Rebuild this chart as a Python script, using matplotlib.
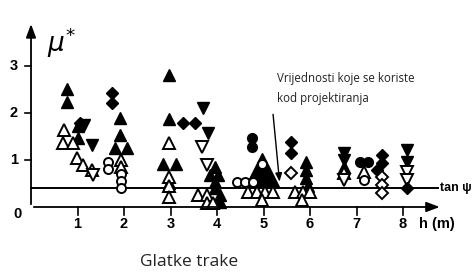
import matplotlib
matplotlib.use("Agg")
import matplotlib.pyplot as plt

# --- datos (h en m, mu*) ---
fill_up_h = [0.77, 0.77, 1.01, 1.0, 1.91, 1.91, 1.81, 2.06, 2.97, 2.97, 2.84, 3.12, 2.97,
             3.96, 3.85, 4.02, 3.96, 3.96, 4.06, 4.06, 5.91, 5.91, 5.91, 5.95, 6.73]
fill_up_mu = [2.51, 2.23, 1.47, 1.72, 1.89, 1.53, 1.26, 1.26, 2.81, 1.87, 0.91, 0.91, 0.50,
              0.85, 0.68, 0.68, 0.53, 0.40, 0.26, 0.11, 0.96, 0.79, 0.62, 0.45, 0.86]

big_up_h = [4.97]
big_up_mu = [0.78]

open_up_h = [0.70, 0.69, 0.90, 0.99, 1.12, 1.31, 1.93, 1.93, 2.97, 2.97, 2.97, 2.97,
             3.60, 3.78, 3.78, 3.92, 4.67, 4.85, 5.03, 5.20, 4.97,
             5.68, 5.85, 6.00, 5.82, 6.73, 7.16]
open_up_mu = [1.64, 1.36, 1.36, 1.04, 0.89, 0.79, 1.00, 0.85, 1.36, 0.64, 0.45, 0.21,
              0.26, 0.26, 0.09, 0.09, 0.32, 0.32, 0.32, 0.32, 0.15,
              0.32, 0.32, 0.32, 0.15, 0.72, 0.74]

fill_down_h = [1.31, 1.15, 3.70, 3.81, 6.73, 6.73, 8.09, 8.09]
fill_down_mu = [1.32, 1.75, 2.10, 1.58, 1.15, 1.00, 1.21, 0.96]

open_down_h = [1.33, 3.68, 3.78, 6.73, 8.09, 8.09]
open_down_mu = [0.68, 1.28, 0.89, 0.57, 0.74, 0.57]

fill_dia_h = [1.05, 1.74, 1.74, 3.27, 3.53, 5.60, 5.60, 7.55, 7.55, 7.45, 8.09]
fill_dia_mu = [1.78, 2.43, 2.21, 1.79, 1.79, 1.38, 1.15, 1.10, 0.93, 0.78, 0.40]

open_dia_h = [5.60, 7.55, 7.55, 7.55]
open_dia_mu = [0.72, 0.64, 0.47, 0.30]

fill_circ_h = [4.75, 4.75, 7.08, 7.25]
fill_circ_mu = [1.47, 1.28, 0.96, 0.96]

open_circ_h = [1.66, 1.66, 1.93, 1.93, 1.93, 4.43, 4.60, 4.77, 7.16, 4.97]
open_circ_mu = [0.96, 0.80, 0.70, 0.55, 0.40, 0.53, 0.53, 0.53, 0.57, 0.92]

tan_psi = 0.4
x_ticks = [1, 2, 3, 4, 5, 6, 7, 8]
y_ticks = [1, 2, 3]

# ------------------------------------------------------------
fig = plt.figure(figsize=(4.76, 2.72), dpi=100)
ax = fig.add_axes([0, 0, 1, 1])
ax.set_xlim(-0.667, 9.57)
ax.set_ylim(-1.383, 4.404)
ax.axis("off")

k = "black"
# ejes con flechas
ax.annotate("", xy=(8.85, 0), xytext=(0, 0),
            arrowprops=dict(arrowstyle="-|>,head_length=0.8,head_width=0.3", color=k, lw=1.3))
ax.annotate("", xy=(0, 3.95), xytext=(0, 0),
            arrowprops=dict(arrowstyle="-|>,head_length=0.8,head_width=0.3", color=k, lw=1.3))

# línea tan psi
ax.plot([0, 8.75], [tan_psi, tan_psi], color=k, lw=1.4)
ax.text(8.8, tan_psi, "tan ψ", fontsize=9, fontweight="bold", va="center", ha="left",
        family="Liberation Sans")

tick_font = dict(fontsize=10.5, fontweight="bold", family="Liberation Sans")
for t in x_ticks:
    ax.plot([t, t], [0, -0.17], color=k, lw=1.2)
    ax.text(t, -0.36, str(t), ha="center", va="center", **tick_font)
for t in y_ticks:
    ax.plot([-0.13, 0], [t, t], color=k, lw=1.2)
    ax.text(-0.37, t, str(t), ha="center", va="center", **tick_font)
ax.text(-0.30, -0.15, "0", ha="center", va="center", **tick_font)
ax.text(8.73, -0.36, "h (m)", ha="center", va="center", **tick_font)
ax.text(0.35, 3.5, r"$\mu^{*}$", fontsize=19, ha="left", va="center")

# marcadores
ms = 8.3
ax.plot(fill_up_h, fill_up_mu, "^", color=k, ms=ms, ls="none")
ax.plot(big_up_h, big_up_mu, "^", color=k, ms=24, ls="none")
ax.plot(open_up_h, open_up_mu, "^", mfc="white", mec=k, mew=1.4, ms=ms, ls="none")
ax.plot(fill_down_h, fill_down_mu, "v", color=k, ms=ms, ls="none")
ax.plot(open_down_h, open_down_mu, "v", mfc="white", mec=k, mew=1.4, ms=ms, ls="none")
ax.plot(fill_dia_h, fill_dia_mu, "D", color=k, ms=6.5, ls="none")
ax.plot(open_dia_h, open_dia_mu, "D", mfc="white", mec=k, mew=1.4, ms=6.5, ls="none")
ax.plot(fill_circ_h, fill_circ_mu, "o", color=k, ms=7, ls="none")
ax.plot(open_circ_h, open_circ_mu, "o", mfc="white", mec=k, mew=1.4, ms=6.5, ls="none")

# anotación
ax.annotate("", xy=(5.35, 0.48), xytext=(5.2, 2.03),
            arrowprops=dict(arrowstyle="-|>,head_length=0.5,head_width=0.2", color=k, lw=1))
ax.text(5.29, 2.74, "Vrijednosti koje se koriste", fontsize=8.3, family="Open Sans",
        va="center", ha="left", color="#222222")
ax.text(5.29, 2.30, "kod projektiranja", fontsize=8.3, family="Open Sans",
        va="center", ha="left", color="#222222")

ax.text(3.40, -1.17, "Glatke trake", fontsize=12.5, family="Open Sans",
        va="center", ha="center", color="#222222")

fig.savefig("out.png", dpi=100)
